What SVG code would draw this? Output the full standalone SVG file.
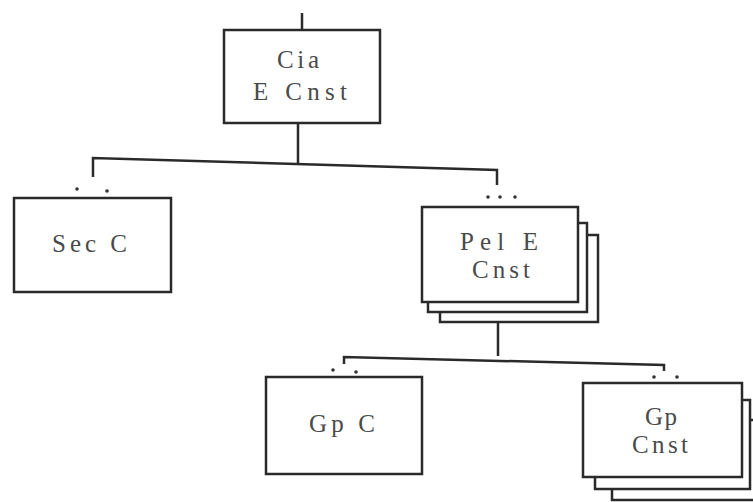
<svg xmlns="http://www.w3.org/2000/svg" width="753" height="502" viewBox="0 0 753 502">
<style>
.box{fill:#fff;stroke:#2a2a2a;stroke-width:2.5}
.ln{fill:none;stroke:#2a2a2a;stroke-width:2.5}
.t{font-family:"Liberation Serif",serif;font-size:25px;fill:#4a4a4a}
.dot{fill:#333}
</style>
<rect width="753" height="502" fill="#fff"/>
<g id="connectors">
<path class="ln" d="M302 13 V30"/>
<path class="ln" d="M298 123 V164"/>
<path class="ln" d="M93 177 V158 L497 170 V185"/>
<path class="ln" d="M498 302 V356"/>
<path class="ln" d="M344 364 V357 L664 365 V371"/>
</g>
<g id="cia">
<rect class="box" x="224" y="30" width="156" height="93"/>
<text class="t" x="277" y="68" textLength="42" lengthAdjust="spacing">Cia</text>
<text class="t" x="253" y="100" textLength="94" lengthAdjust="spacing">E Cnst</text>
</g>
<g id="sec">
<circle class="dot" cx="77" cy="189" r="1.8"/>
<circle class="dot" cx="107" cy="191" r="1.8"/>
<rect class="box" x="14" y="198" width="157" height="94"/>
<text class="t" x="52" y="252" textLength="75" lengthAdjust="spacing">Sec C</text>
</g>
<g id="pel">
<circle class="dot" cx="488" cy="197" r="1.8"/>
<circle class="dot" cx="500" cy="197" r="1.8"/>
<circle class="dot" cx="515" cy="197" r="1.8"/>
<rect class="box" x="440" y="235" width="158" height="87"/>
<rect class="box" x="428" y="223" width="159" height="89"/>
<rect class="box" x="422" y="207" width="156" height="95"/>
<text class="t" x="460" y="250" textLength="78" lengthAdjust="spacing">Pel E</text>
<text class="t" x="472" y="278" textLength="58" lengthAdjust="spacing">Cnst</text>
</g>
<g id="gpc">
<circle class="dot" cx="333" cy="370" r="1.8"/>
<circle class="dot" cx="356" cy="372" r="1.8"/>
<rect class="box" x="266" y="377" width="156" height="97"/>
<text class="t" x="309" y="432" textLength="66" lengthAdjust="spacing">Gp C</text>
</g>
<g id="gpcnst">
<circle class="dot" cx="654" cy="377" r="1.8"/>
<circle class="dot" cx="677" cy="377" r="1.8"/>
<rect class="box" x="612" y="420" width="160" height="80"/>
<rect class="box" x="595" y="400" width="155" height="89"/>
<rect class="box" x="583" y="383" width="159" height="94"/>
<text class="t" x="645" y="425" textLength="32" lengthAdjust="spacing">Gp</text>
<text class="t" x="632" y="453" textLength="56" lengthAdjust="spacing">Cnst</text>
</g>
</svg>
